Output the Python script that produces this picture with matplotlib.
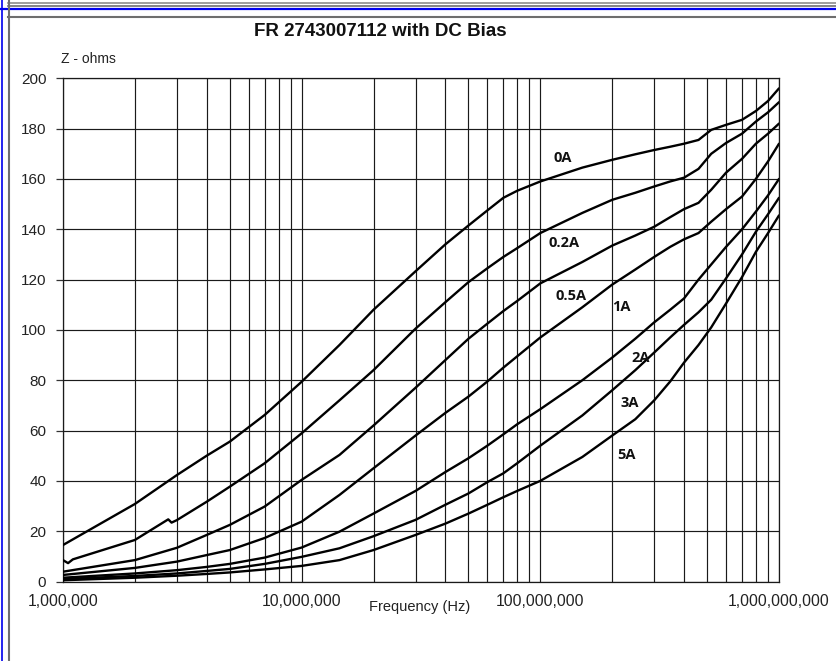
import matplotlib
matplotlib.use("Agg")
import matplotlib.pyplot as plt
from matplotlib.lines import Line2D
from matplotlib.ticker import FixedLocator, LogLocator, NullFormatter

plt.rcParams['font.family'] = ['Liberation Sans', 'DejaVu Sans']

# ---- data ----
freq = [1e6, 2e6, 3e6, 4e6, 5e6, 7e6, 1e7, 1.44e7, 2e7, 3e7, 4e7, 5e7, 6e7, 7e7, 8e7, 1e8,
        1.5e8, 2e8, 2.5e8, 3e8, 3.5e8, 4e8, 4.6e8, 5.2e8, 6e8, 7e8, 8e8, 9e8, 1e9]

z_0A = [14.5, 30.8, 42.3, 50, 55.6, 66.2, 79.4, 94, 108, 123.3, 134, 141.5, 147.5, 152.5, 155.3, 159,
        164.5, 167.6, 169.8, 171.5, 172.8, 174, 175.5, 179.5, 181.5, 183.5, 187, 191, 196]
freq_02 = [1e6, 1.05e6, 1.1e6, 2e6, 2.76e6, 2.85e6, 3e6, 4e6, 5e6, 7e6, 1e7, 1.44e7, 2e7,
           3e7, 4e7, 5e7, 6e7, 7e7, 8e7, 1e8, 1.5e8, 2e8, 2.5e8, 3e8, 3.5e8, 4e8, 4.6e8, 5.2e8,
           6e8, 7e8, 8e8, 9e8, 1e9]
z_02A = [8.5, 7.3, 8.8, 16.5, 24.7, 23.4, 24.4, 31.7, 37.7, 47, 58.9, 72, 84,
         100.5, 111, 119, 124.5, 129, 132.5, 138.5, 146.5, 151.7, 154.5, 157, 159, 160.5, 164, 170,
         174.3, 178, 182.8, 186.5, 190.5]
z_05A = [3.9, 8.5, 13.4, 18.5, 22.5, 29.8, 40.4, 50.3, 62, 77, 88, 96.5, 102.5, 107.5, 111.5, 118.5,
         127, 133.5, 137.5, 141, 144.8, 148, 150.5, 155.7, 162.5, 168, 174, 178, 182]
z_1A = [2.6, 5.4, 7.9, 10.5, 12.5, 17.3, 23.8, 34.4, 45, 58, 67, 73.5, 79.5, 85, 89.5, 97,
        109, 118, 124, 129, 133, 136, 138.5, 143, 148, 153, 160, 167, 174]
z_2A = [1.5, 3.2, 4.5, 5.8, 7, 9.5, 13.5, 19.8, 27, 36, 43.5, 49, 54, 58.5, 62.5, 68.5,
        80, 89, 96.5, 103, 108, 112.5, 120, 126, 133, 140, 147, 153.5, 160]
z_3A = [1.0, 2.2, 3.2, 4.2, 5, 7, 9.8, 13.2, 18, 24.5, 30.5, 35, 39.5, 43, 47, 54,
        66, 76, 84, 91, 97, 102, 107, 112, 120.5, 130, 139, 146, 152.5]
z_5A = [0.5, 1.5, 2.3, 3.0, 3.6, 4.8, 6.2, 8.5, 12.5, 18.5, 23, 27, 30.5, 33.5, 36, 40,
        49.5, 58, 64.5, 72, 79.5, 87, 94, 101, 110.5, 121, 131, 138.5, 145.5]

labels = ["0A", "0.2A", "0.5A", "1A", "2A", "3A", "5A"]
label_f = [1.236e8, 1.26e8, 1.35e8, 2.18e8, 2.62e8, 2.36e8, 2.29e8]
label_z = [168.4, 134.6, 113.5, 109.1, 88.9, 71.0, 50.3]

yticks = [0, 20, 40, 60, 80, 100, 120, 140, 160, 180, 200]
xticks = [1e6, 1e7, 1e8, 1e9]
xtick_labels = ["1,000,000", "10,000,000", "100,000,000", "1,000,000,000"]

title = "FR 2743007112 with DC Bias"
ylabel = "Z - ohms"
xlabel = "Frequency (Hz)"

# ---- figure ----
W, H = 836, 661
fig = plt.figure(figsize=(W / 100, H / 100), dpi=100)
fig.patch.set_facecolor("white")

L, R, T, B = 63, 779, 78.3, 581.5
ax = fig.add_axes([L / W, 1 - B / H, (R - L) / W, (B - T) / H])
ax.set_xscale("log")
ax.set_xlim(1e6, 1e9)
ax.set_ylim(0, 200)

ax.xaxis.set_major_locator(FixedLocator(xticks))
ax.xaxis.set_minor_locator(LogLocator(base=10, subs=range(2, 10)))
ax.xaxis.set_minor_formatter(NullFormatter())
ax.set_xticklabels(xtick_labels)
ax.set_yticks(yticks)

ax.grid(True, which="major", axis="both", color="#1a1a1a", lw=0.85)
ax.grid(True, which="minor", axis="x", color="#1a1a1a", lw=0.85)
ax.set_axisbelow(True)

for s in ax.spines.values():
    s.set_color("#1a1a1a")
    s.set_linewidth(0.9)

ax.tick_params(axis="y", which="major", length=5, width=0.9, color="#333333",
               labelsize=11, pad=7, labelcolor="#222222")
ax.tick_params(axis="x", which="major", length=0, labelsize=11.3, pad=9,
               labelcolor="#222222")
ax.tick_params(axis="x", which="minor", length=0)

series = [(freq, z_0A), (freq_02, z_02A), (freq, z_05A), (freq, z_1A),
          (freq, z_2A), (freq, z_3A), (freq, z_5A)]
for f, z in series:
    ax.plot(f, z, color="black", lw=1.7, solid_joinstyle="round",
            solid_capstyle="round", zorder=3)

for lab, lf, lz in zip(labels, label_f, label_z):
    ax.text(lf, lz, lab, ha="center", va="center", fontsize=10.5,
            fontweight="bold", family=["Open Sans", "DejaVu Sans"], color="#111111", zorder=4)

fig.text(380 / W, 1 - 31 / H, title, ha="center", va="center", fontsize=13.5,
         fontweight="bold", color="#111111")
fig.text(88 / W, 1 - 59 / H, ylabel, ha="center", va="center", fontsize=10,
         color="#222222")
fig.text(420 / W, 1 - 607 / H, xlabel, ha="center", va="center", fontsize=10.5,
         color="#222222")

# ---- window frame decorations ----
def hline(y, x0, x1, color, lw):
    fig.add_artist(Line2D([x0 / W, x1 / W], [1 - y / H, 1 - y / H], color=color, lw=lw))

def vline(x, y0, y1, color, lw):
    fig.add_artist(Line2D([x / W, x / W], [1 - y0 / H, 1 - y1 / H], color=color, lw=lw))

hline(3.3, 8, W, "#8c8c8c", 1.2)
hline(6, 8, W, "#6e6e6e", 1.2)
hline(9, 0, W, "#0000ee", 1.6)
hline(16.5, 8, W, "#6e6e6e", 1.5)
vline(2, 0, H, "#0000ee", 1.2)
vline(8.5, 0, H, "#707070", 1.5)

fig.savefig("out.png", dpi=100, facecolor="white")
